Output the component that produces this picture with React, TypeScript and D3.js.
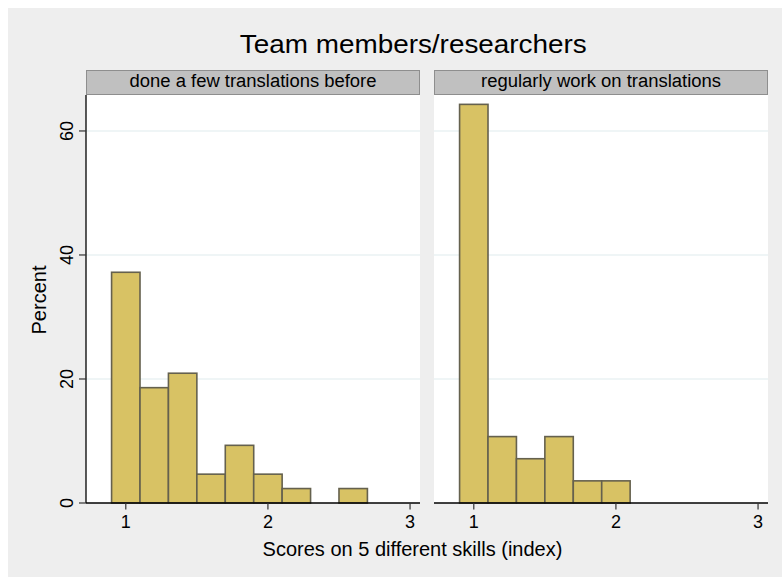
import React from "react";
import * as d3 from "d3";

// Histogram bins (lower edges) and bin width, in index units
const binWidth = 0.2;
const leftBinStarts = [0.9, 1.1, 1.3, 1.5, 1.7, 1.9, 2.1, 2.3, 2.5];
const leftPercent = [37.21, 18.6, 20.93, 4.65, 9.3, 4.65, 2.33, 0, 2.33];
const rightBinStarts = [0.9, 1.1, 1.3, 1.5, 1.7, 1.9];
const rightPercent = [64.29, 10.71, 7.14, 10.71, 3.57, 3.57];

const panelTitles = ["done a few translations before", "regularly work on translations"];
const xTicks = [1, 2, 3];
const yTicks = [0, 20, 40, 60];

const chartTitle = "Team members/researchers";
const xTitle = "Scores on 5 different skills (index)";
const yTitle = "Percent";

const W = 774;
const H = 569;
const FONT = "'Liberation Sans', Arial, Helvetica, sans-serif";

const plotTop = 87;
const plotBottom = 495;
const headerTop = 62;
const headerBottom = 86;
const panels = [
  { x0: 78, x1: 412, starts: leftBinStarts, values: leftPercent, title: panelTitles[0], titleLen: 247, yAxis: true },
  { x0: 426, x1: 760, starts: rightBinStarts, values: rightPercent, title: panelTitles[1], titleLen: 240, yAxis: false },
];

const y = d3.scaleLinear().domain([0, 65.8]).range([plotBottom, plotTop]);

export default function App() {
  return (
    <svg
      width={W}
      height={H}
      style={{ position: "absolute", left: 8, top: 8, display: "block" }}
      fontFamily={FONT}
    >
      <rect x={0} y={0} width={W} height={H} fill="#eeeeee" />
      <text
        x={405.3}
        y={45.3}
        fontSize={25}
        textAnchor="middle"
        textLength={347}
        lengthAdjust="spacingAndGlyphs"
        fill="#000"
      >
        {chartTitle}
      </text>

      {panels.map((p, pi) => {
        const x = d3.scaleLinear().domain([0.72, 3.07]).range([p.x0, p.x1]);
        const cx = (p.x0 + p.x1) / 2;
        return (
          <g key={pi}>
            <rect x={p.x0} y={plotTop} width={p.x1 - p.x0} height={plotBottom - plotTop} fill="#ffffff" />
            <rect
              x={p.x0 + 0.5}
              y={headerTop + 0.5}
              width={p.x1 - p.x0 - 1}
              height={headerBottom - headerTop}
              fill="#c0c0c0"
              stroke="#8e8e8e"
              strokeWidth={1}
            />
            <text
              x={cx}
              y={headerBottom - 7}
              fontSize={18}
              textAnchor="middle"
              textLength={p.titleLen}
              lengthAdjust="spacingAndGlyphs"
              fill="#000"
            >
              {p.title}
            </text>
            {yTicks
              .filter((t) => t > 0)
              .map((t) => (
                <line
                  key={t}
                  x1={p.x0}
                  x2={p.x1}
                  y1={y(t)}
                  y2={y(t)}
                  stroke="#eaf2f3"
                  strokeWidth={1.5}
                />
              ))}
            {p.starts.map((s, i) =>
              p.values[i] > 0 ? (
                <rect
                  key={i}
                  x={x(s)}
                  y={y(p.values[i])}
                  width={x(s + binWidth) - x(s)}
                  height={y(0) - y(p.values[i])}
                  fill="#d8c264"
                  stroke="#65614e"
                  strokeWidth={1.6}
                />
              ) : null
            )}
            <line x1={p.x0} x2={p.x1} y1={plotBottom} y2={plotBottom} stroke="#000" strokeWidth={1.3} />
            {xTicks.map((t) => (
              <g key={t}>
                <line x1={x(t)} x2={x(t)} y1={plotBottom} y2={plotBottom + 6.5} stroke="#333" strokeWidth={1.2} />
                <text x={x(t)} y={520} fontSize={18} textAnchor="middle" fill="#000">
                  {t}
                </text>
              </g>
            ))}
            {p.yAxis && (
              <g>
                <line x1={p.x0} x2={p.x0} y1={plotTop} y2={plotBottom} stroke="#000" strokeWidth={1.3} />
                {yTicks.map((t) => (
                  <g key={t}>
                    <line x1={p.x0 - 7} x2={p.x0} y1={y(t)} y2={y(t)} stroke="#333" strokeWidth={1.2} />
                    <text
                      transform={`translate(65.3,${y(t)}) rotate(-90)`}
                      fontSize={18}
                      textAnchor="middle"
                      fill="#000"
                    >
                      {t}
                    </text>
                  </g>
                ))}
              </g>
            )}
          </g>
        );
      })}

      <text x={404.5} y={548} fontSize={20} textAnchor="middle" fill="#000">
        {xTitle}
      </text>
      <text transform="translate(37.7,292) rotate(-90)" fontSize={20} textAnchor="middle" fill="#000">
        {yTitle}
      </text>
    </svg>
  );
}
